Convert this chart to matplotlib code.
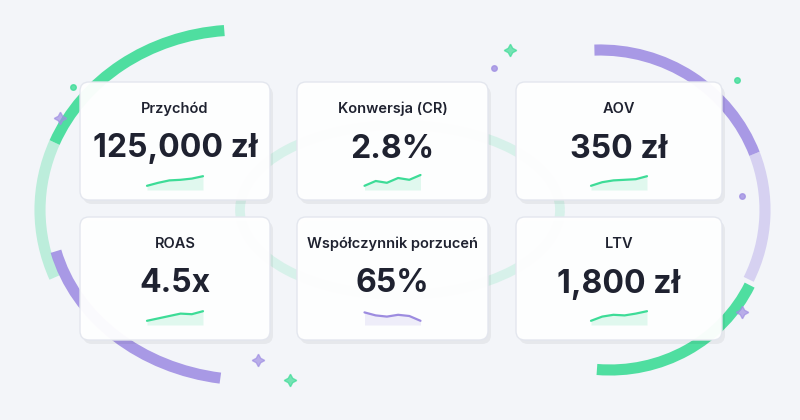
import matplotlib.pyplot as plt
from matplotlib.patches import FancyBboxPatch, Arc

titles = ["Przychód", "Konwersja (CR)", "AOV", "ROAS", "Współczynnik porzuceń", "LTV"]
values = ["125,000 zł", "2.8%", "350 zł", "4.5x", "65%", "1,800 zł"]
sparks = [
    [0.1, 0.35, 0.55, 0.6, 0.7, 0.9],
    [0.1, 0.5, 0.35, 0.75, 0.6, 1.0],
    [0.1, 0.4, 0.55, 0.6, 0.65, 0.9],
    [0.1, 0.3, 0.5, 0.7, 0.65, 0.9],
    [0.8, 0.55, 0.45, 0.6, 0.5, 0.1],
    [0.1, 0.45, 0.6, 0.55, 0.7, 0.9],
]
spark_colors = ["#3ddc97", "#3ddc97", "#3ddc97", "#3ddc97", "#9d8ce0", "#3ddc97"]

GREEN = "#3ddc97"
PURPLE = "#a08fe3"

fig = plt.figure(figsize=(8, 4.2), dpi=100, facecolor="#f3f5f9")
ax = fig.add_axes([0, 0, 1, 1])
ax.set_xlim(0, 800)
ax.set_ylim(420, 0)
ax.axis("off")

# dekoracyjne łuki
ax.add_patch(Arc((240, 210), 400, 360, theta1=200, theta2=265, color=GREEN, lw=8, alpha=0.9))
ax.add_patch(Arc((240, 210), 400, 360, theta1=160, theta2=200, color=GREEN, lw=8, alpha=0.3))
ax.add_patch(Arc((250, 210), 400, 340, theta1=100, theta2=168, color=PURPLE, lw=8, alpha=0.9))
ax.add_patch(Arc((600, 210), 330, 320, theta1=-92, theta2=-20, color=PURPLE, lw=8, alpha=0.9))
ax.add_patch(Arc((600, 210), 330, 320, theta1=-20, theta2=25, color=PURPLE, lw=8, alpha=0.35))
ax.add_patch(Arc((610, 220), 310, 300, theta1=25, theta2=95, color=GREEN, lw=8, alpha=0.9))
ax.add_patch(Arc((400, 210), 320, 170, theta1=0, theta2=360, color=GREEN, lw=7, alpha=0.15))

for (x, y, c) in [(60, 118, PURPLE), (510, 50, GREEN), (742, 312, PURPLE), (290, 380, GREEN), (258, 360, PURPLE)]:
    ax.plot(x, y, marker=(4, 1, 0), ms=9, color=c, alpha=0.7)
for (x, y, c) in [(73, 87, GREEN), (737, 80, GREEN), (494, 68, PURPLE), (742, 196, PURPLE)]:
    ax.plot(x, y, "o", ms=4, color=c, alpha=0.8)

cards_x = [80, 297, 516]
cards_w = [190, 191, 206]
cards_y = [82, 217]
cards_h = [118, 123]

for i in range(6):
    r, c = divmod(i, 3)
    x0, w = cards_x[c], cards_w[c]
    y0, h = cards_y[r], cards_h[r]
    ax.add_patch(FancyBboxPatch((x0 + 3, y0 + 4), w, h, boxstyle="round,pad=0,rounding_size=9",
                                fc="#000000", ec="none", alpha=0.05))
    ax.add_patch(FancyBboxPatch((x0, y0), w, h, boxstyle="round,pad=0,rounding_size=9",
                                fc="white", ec="#e3e6ee", lw=1, alpha=0.96))
    cx = x0 + w / 2
    ax.text(cx, y0 + 27, titles[i], ha="center", va="center", fontsize=10.5,
            family="Inter", fontweight="semibold", color="#1f2230")
    ax.text(cx, y0 + 67, values[i], ha="center", va="center", fontsize=23,
            family="Inter", fontweight="bold", color="#1f2230")
    s = sparks[i]
    n = len(s)
    xs = [cx - 28 + 56 * k / (n - 1) for k in range(n)]
    ys = [y0 + 105 - 12 * v for v in s]
    ax.plot(xs, ys, color=spark_colors[i], lw=1.6, solid_capstyle="round", solid_joinstyle="round")
    ax.fill_between(xs, ys, y0 + 108, color=spark_colors[i], alpha=0.15, lw=0)

fig.savefig("out.png", dpi=100, facecolor=fig.get_facecolor())
